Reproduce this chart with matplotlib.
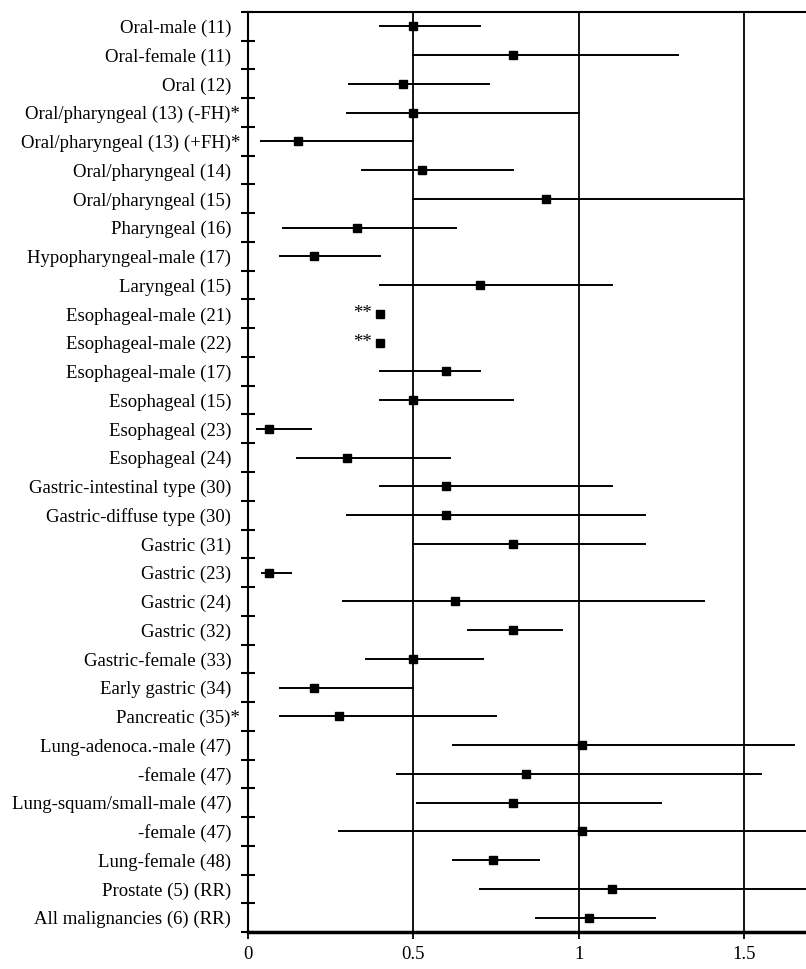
import numpy as np
import matplotlib
matplotlib.use("Agg")
import matplotlib.pyplot as plt
import matplotlib.transforms as mtrans

plt.rcParams['font.family'] = ['Liberation Serif', 'DejaVu Serif']

labels = [
    "Oral-male (11)", "Oral-female (11)", "Oral (12)",
    "Oral/pharyngeal (13) (-FH)*", "Oral/pharyngeal (13) (+FH)*",
    "Oral/pharyngeal (14)", "Oral/pharyngeal (15)", "Pharyngeal (16)",
    "Hypopharyngeal-male (17)", "Laryngeal (15)",
    "Esophageal-male (21)", "Esophageal-male (22)", "Esophageal-male (17)",
    "Esophageal (15)", "Esophageal (23)", "Esophageal (24)",
    "Gastric-intestinal type (30)", "Gastric-diffuse type (30)",
    "Gastric (31)", "Gastric (23)", "Gastric (24)", "Gastric (32)",
    "Gastric-female (33)", "Early gastric (34)", "Pancreatic (35)*",
    "Lung-adenoca.-male (47)", "-female (47)", "Lung-squam/small-male (47)",
    "-female (47)", "Lung-female (48)", "Prostate (5) (RR)",
    "All malignancies (6) (RR)",
]
# point estimates (OR / RR)
est = [0.50, 0.80, 0.47, 0.50, 0.15, 0.525, 0.90, 0.33,
       0.20, 0.70, 0.40, 0.40, 0.60, 0.50, 0.065, 0.30,
       0.60, 0.60, 0.80, 0.065, 0.625, 0.80, 0.50, 0.20, 0.275,
       1.01, 0.84, 0.80, 1.01, 0.74, 1.10, 1.03]
# confidence intervals (nan = not reported)
lo = [0.40, 0.50, 0.305, 0.30, 0.04, 0.345, 0.50, 0.107,
      0.098, 0.40, np.nan, np.nan, 0.40, 0.40, 0.026, 0.147,
      0.40, 0.30, 0.50, 0.042, 0.287, 0.665, 0.357, 0.098, 0.098,
      0.62, 0.45, 0.51, 0.275, 0.62, 0.70, 0.87]
hi = [0.70, 1.30, 0.73, 1.00, 0.50, 0.80, 1.50, 0.63,
      0.40, 1.10, np.nan, np.nan, 0.70, 0.80, 0.19, 0.61,
      1.10, 1.20, 1.20, 0.13, 1.38, 0.95, 0.71, 0.50, 0.75,
      1.65, 1.55, 1.25, 1.80, 0.88, 2.00, 1.23]
no_ci_note = "**"

n = len(labels)
y = np.arange(n)
fs = 13.5

fig = plt.figure(figsize=(8.06, 9.69), dpi=100)
ax = fig.add_axes([248/806, 1 - 932/969, 1 - 248/806, 920/969])

for xv in [0.5, 1.0, 1.5]:
    ax.axvline(xv, color='black', lw=1.3, zorder=1)

for i in range(n):
    if np.isnan(lo[i]):
        ax.text(est[i] - 0.025, y[i], no_ci_note, ha='right', va='center', fontsize=fs)
    else:
        ax.plot([lo[i], hi[i]], [y[i], y[i]], color='black', lw=1.4, zorder=2)
ax.plot(est, y, 's', color='black', ms=5.5, zorder=3)

ax.set_xlim(0, 1.687)
ax.set_ylim(n - 0.5, -0.5)
ax.set_xticks([0, 0.5, 1, 1.5])
ax.set_xticklabels(['0', '0.5', '1', '1.5'], fontsize=fs)
ax.tick_params(axis='x', direction='out', length=5, width=1.3, pad=5)

ax.set_yticks(np.arange(n + 1) - 0.5)
ax.set_yticklabels([])
ax.set_yticks(y, minor=True)
ax.set_yticklabels(labels, minor=True, fontsize=fs)
ax.tick_params(axis='y', which='major', direction='inout', length=10, width=1.5)
ax.tick_params(axis='y', which='minor', length=0, pad=12)

# let the asterisks hang past the aligned right edge
shift = mtrans.ScaledTranslation(6.5/72, 0, fig.dpi_scale_trans)
for lab in ax.get_yticklabels(minor=True):
    if lab.get_text().endswith('*'):
        lab.set_transform(lab.get_transform() + shift)

ax.spines['right'].set_visible(False)
ax.spines['left'].set_linewidth(1.5)
ax.spines['top'].set_linewidth(1.5)
ax.spines['bottom'].set_linewidth(2.5)

fig.savefig("out.png", dpi=100)
